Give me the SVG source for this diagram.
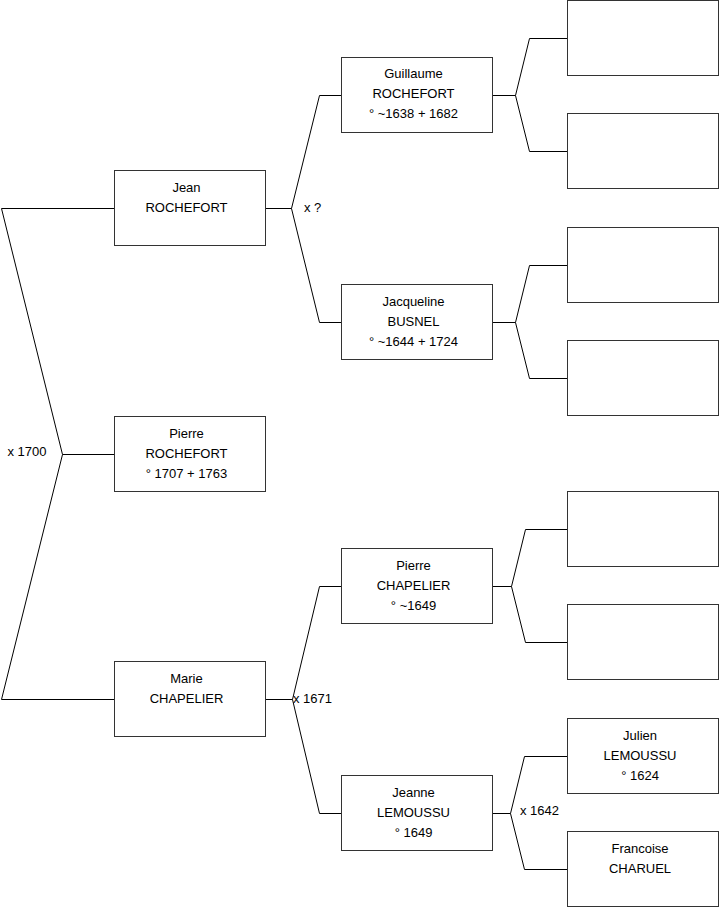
<svg xmlns="http://www.w3.org/2000/svg" width="719" height="908" viewBox="0 0 719 908">
<style>
.box{fill:#fff;stroke:#333;stroke-width:1}
.ln{fill:none;stroke:#000;stroke-width:1}
text{font-family:"Liberation Sans",Arial,sans-serif;font-size:13px;fill:#000}
.c{text-anchor:middle}
</style>
<rect width="719" height="908" fill="#fff"/>
<g id="connectors">
<path class="ln" d="M114.5,208.5 H1.5 L62.5,454.5 L1.5,699.5 H114.5 M62.5,454.5 H114.5"/>
<path class="ln" d="M265.5,208.5 H291.5 L319.5,95.5 H341.5 M291.5,208.5 L319.5,322.5 H341.5"/>
<path class="ln" d="M265.5,699.5 H292.5 L319.5,586.5 H341.5 M292.5,699.5 L319.5,813.5 H341.5"/>
<path class="ln" d="M492.5,95.5 H515.5 L529.5,38.5 H567.5 M515.5,95.5 L529.5,151.5 H567.5"/>
<path class="ln" d="M492.5,322.5 H515.5 L529.5,265.5 H567.5 M515.5,322.5 L529.5,378.5 H567.5"/>
<path class="ln" d="M492.5,586.5 H511.5 L525.5,529.5 H567.5 M511.5,586.5 L525.5,642.5 H567.5"/>
<path class="ln" d="M492.5,813.5 H510.5 L524.5,756.5 H567.5 M510.5,813.5 L524.5,869.5 H567.5"/>
<text x="7.5" y="455.5">x 1700</text>
<text x="304" y="211.5">x ?</text>
<text x="293" y="702.5">x 1671</text>
<text x="520" y="815">x 1642</text>
</g>
<g id="jean"><rect class="box" x="114.5" y="170.5" width="151" height="75"/><text class="c" x="186.5" y="191.5">Jean</text><text class="c" x="186.5" y="211.5">ROCHEFORT</text></g>
<g id="pierre-rochefort"><rect class="box" x="114.5" y="416.5" width="151" height="75"/><text class="c" x="186.5" y="437.5">Pierre</text><text class="c" x="186.5" y="457.5">ROCHEFORT</text><text class="c" x="186.5" y="477.5">° 1707 + 1763</text></g>
<g id="marie"><rect class="box" x="114.5" y="661.5" width="151" height="75"/><text class="c" x="186.5" y="682.5">Marie</text><text class="c" x="186.5" y="702.5">CHAPELIER</text></g>
<g id="guillaume"><rect class="box" x="341.5" y="57.5" width="151" height="75"/><text class="c" x="413.5" y="78">Guillaume</text><text class="c" x="413.5" y="98">ROCHEFORT</text><text class="c" x="413.5" y="118">° ~1638 + 1682</text></g>
<g id="jacqueline"><rect class="box" x="341.5" y="284.5" width="151" height="75"/><text class="c" x="413.5" y="305.5">Jacqueline</text><text class="c" x="413.5" y="325.5">BUSNEL</text><text class="c" x="413.5" y="345.5">° ~1644 + 1724</text></g>
<g id="pierre-chapelier"><rect class="box" x="341.5" y="548.5" width="151" height="75"/><text class="c" x="413.5" y="569.5">Pierre</text><text class="c" x="413.5" y="589.5">CHAPELIER</text><text class="c" x="413.5" y="609.5">° ~1649</text></g>
<g id="jeanne"><rect class="box" x="341.5" y="775.5" width="151" height="75"/><text class="c" x="413.5" y="796.5">Jeanne</text><text class="c" x="413.5" y="816.5">LEMOUSSU</text><text class="c" x="413.5" y="836.5">° 1649</text></g>
<g id="empty1"><rect class="box" x="567.5" y="0.5" width="151" height="75"/></g>
<g id="empty2"><rect class="box" x="567.5" y="113.5" width="151" height="75"/></g>
<g id="empty3"><rect class="box" x="567.5" y="227.5" width="151" height="75"/></g>
<g id="empty4"><rect class="box" x="567.5" y="340.5" width="151" height="75"/></g>
<g id="empty5"><rect class="box" x="567.5" y="491.5" width="151" height="75"/></g>
<g id="empty6"><rect class="box" x="567.5" y="604.5" width="151" height="75"/></g>
<g id="julien"><rect class="box" x="567.5" y="718.5" width="151" height="75"/><text class="c" x="640" y="739.5">Julien</text><text class="c" x="640" y="759.5">LEMOUSSU</text><text class="c" x="640" y="779.5">° 1624</text></g>
<g id="francoise"><rect class="box" x="567.5" y="831.5" width="151" height="75"/><text class="c" x="640" y="852.5">Francoise</text><text class="c" x="640" y="872.5">CHARUEL</text></g>
</svg>
